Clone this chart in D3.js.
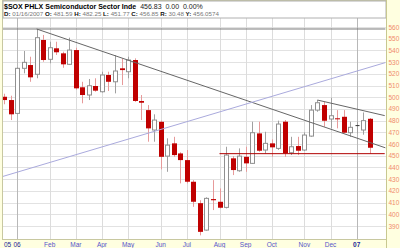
<!DOCTYPE html>
<html>
<head>
<meta charset="utf-8">
<script src="https://cdn.jsdelivr.net/npm/d3@7"></script>
<style>
body{margin:0;background:#ffffe0;}
svg{display:block;font-family:"Liberation Sans",Arial,sans-serif;}
</style>
</head>
<body>
<div id="chart"></div>
<script>
// weekly candles, $SOX
var weeks = ["2005-12-19","2005-12-26","2006-01-02","2006-01-09","2006-01-16","2006-01-23","2006-01-30",
	"2006-02-06","2006-02-13","2006-02-20","2006-02-27","2006-03-06","2006-03-13","2006-03-20","2006-03-27",
	"2006-04-03","2006-04-10","2006-04-17","2006-04-24","2006-05-01","2006-05-08","2006-05-15","2006-05-22",
	"2006-05-29","2006-06-05","2006-06-12","2006-06-19","2006-06-26","2006-07-03","2006-07-10","2006-07-17",
	"2006-07-24","2006-07-31","2006-08-07","2006-08-14","2006-08-21","2006-08-28","2006-09-04","2006-09-11",
	"2006-09-18","2006-09-25","2006-10-02","2006-10-09","2006-10-16","2006-10-23","2006-10-30","2006-11-06",
	"2006-11-13","2006-11-20","2006-11-27","2006-12-04","2006-12-11","2006-12-18","2006-12-25","2007-01-01",
	"2007-01-08","2007-01-15"];
var opens = [500.4,497.6,486.2,524.7,527.5,519.6,548.9,532.4,541.8,537.5,528.1,540.3,508.5,501.9,509.6,504.7,519,513.2,524.7,521.8,531.8,496.8,489,472,479,449.7,460.6,452,446.3,427.8,409.5,386.5,413,410.7,405.9,447.8,437.2,449.1,443.5,469.1,454.9,460.6,456.3,479.1,452.6,458.3,454.9,466.8,489,493.3,481.4,482,483.3,469.7,476,472,481.59];
var highs = [503,501.3,525.5,539.5,534.6,558.3,553.2,547.4,547.4,538.9,550.9,542.3,513.2,515.6,516.2,521.8,521.8,536,533.2,534.6,533.2,501.9,493.3,485.4,480,464.9,466.2,453,454.9,429.2,412,414.5,429.2,422.1,457.7,449.7,456.3,457.7,479.1,479.1,470.5,464,480,480.5,466.2,466.2,470,493.3,497.6,496.2,499.6,489,489,479.1,479,487,482.25];
var lows = [494,480.5,485.5,520.4,513.2,516.2,530.3,529,536.1,525.2,527.5,506.5,494.8,497.6,504.7,504,505.3,503.3,510.4,516.2,496,480.5,462,462,438.4,436.3,449.1,426.4,426.4,406.4,382,386,403.6,405,405,433.5,436.3,436.3,443,453.4,452,449.1,455,449.1,450.6,450.6,454,466.2,487.6,474.8,473.4,473.4,469.1,466.2,469,468,451.77];
var closes = [497.6,485.4,524.7,529.8,517,550.9,531.8,542.3,538.4,528.1,540.3,507.6,501.9,509.8,505.6,519,513.2,522.4,523.2,531.8,496.8,495.3,473.4,480.5,449.1,459.1,450.6,446.3,427.8,410.7,385,413.6,412,405.6,450.6,437.8,449.7,443.5,469.7,454.3,460.6,457.2,477.1,452,457.7,454.3,467.7,489,495.3,479.9,484.2,481.4,469.7,474.3,476.2,480,456.85];

var priceTicks = [390,400,410,420,430,440,450,460,470,480,490,500,510,520,530,540,550,560];
var tickWeeks = ["2005-12-19","2006-01-02","2006-02-06","2006-03-06","2006-04-03","2006-05-01","2006-06-05",
	"2006-07-03","2006-08-07","2006-09-04","2006-10-02","2006-11-06","2006-12-04","2007-01-01"];
var tickLabels = ["05","06","Feb","Mar","Apr","May","Jun","Jul","Aug","Sep","Oct","Nov","Dec","07"];

// drawn lines: [week index, price]
var lineFrom = [[-1,558.3],[5,558.3],[-0.5,431.8],[48,497.6],[33,451.8]];
var lineTo = [[58.4,558.3],[58.4,456.8],[58.4,529.6],[58.3,484.3],[58.3,451.8]];
var lineColors = ["#777","#666","#aaaadd","#666","#b00000"];

var width = 400, height = 248;
var L = 3, R = 386, T = 1, B = 239;

var svg = d3.select("#chart").append("svg")
	.attr("width", width).attr("height", height);

svg.append("rect").attr("width", width).attr("height", height).attr("fill", "#ffffe0");
svg.append("rect").attr("x", L).attr("y", T).attr("width", R - L).attr("height", B - T)
	.attr("fill", "#fff");

var x = d3.scaleLinear().domain([0, weeks.length - 1]).range([4, 369.7]);
var y = d3.scaleLinear().domain([390, 560]).range([226, 27]);

svg.append("clipPath").attr("id", "plot")
	.append("rect").attr("x", L).attr("y", 18).attr("width", R - L).attr("height", B - 18);

var g = svg.append("g").attr("clip-path", "url(#plot)");

// grid
g.selectAll(".hg").data(priceTicks).enter().append("line")
	.attr("x1", L).attr("x2", R)
	.attr("y1", function(d){ return Math.round(y(d)) + 0.5; })
	.attr("y2", function(d){ return Math.round(y(d)) + 0.5; })
	.attr("stroke", "#e2e2e2");

g.selectAll(".vg").data(tickWeeks.slice(1)).enter().append("line")
	.attr("x1", function(d){ return Math.round(x(weeks.indexOf(d))) + 0.5; })
	.attr("x2", function(d){ return Math.round(x(weeks.indexOf(d))) + 0.5; })
	.attr("y1", 18).attr("y2", B)
	.attr("stroke", function(d){ return d.slice(5) === "01-01" || d.slice(5) === "01-02" ? "#b8b8b8" : "#dcdcdc"; });

// candles
var idx = d3.range(weeks.length);
var cg = g.selectAll(".candle").data(idx).enter().append("g");

cg.append("line")
	.attr("x1", function(i){ return Math.round(x(i)) + 0.5; })
	.attr("x2", function(i){ return Math.round(x(i)) + 0.5; })
	.attr("y1", function(i){ return y(highs[i]); })
	.attr("y2", function(i){ return y(lows[i]); })
	.attr("stroke", function(i){ return closes[i] < opens[i] ? "#e79a9a" : "#a0a0a0"; });

cg.append("rect")
	.attr("x", function(i){ return closes[i] < opens[i] ? Math.round(x(i)) - 2 : Math.round(x(i)) - 1.5; })
	.attr("width", function(i){ return closes[i] < opens[i] ? 5 : 4; })
	.attr("y", function(i){ return y(Math.max(opens[i], closes[i])); })
	.attr("height", function(i){ return Math.max(1, Math.abs(y(opens[i]) - y(closes[i]))); })
	.attr("fill", function(i){
		if (Math.abs(opens[i] - closes[i]) < 0.5) return "#333";
		return closes[i] < opens[i] ? "#c00000" : "#fff";
	})
	.attr("stroke", function(i){
		if (Math.abs(opens[i] - closes[i]) < 0.5) return "none";
		return closes[i] < opens[i] ? "none" : "#909090";
	});

// drawn lines
g.selectAll(".tl").data(lineFrom).enter().append("line")
	.attr("x1", function(d){ return x(d[0]); })
	.attr("y1", function(d){ return y(d[1]); })
	.attr("x2", function(d, i){ return x(lineTo[i][0]); })
	.attr("y2", function(d, i){ return y(lineTo[i][1]); })
	.attr("stroke", function(d, i){ return lineColors[i]; })
	.attr("stroke-width", 1);

// frame
svg.append("rect").attr("x", L - 0.5).attr("y", T - 0.5).attr("width", R - L + 1).attr("height", B - T + 1)
	.attr("fill", "none").attr("stroke", "#c8c8a0");

// header
svg.append("rect").attr("x", L).attr("y", T).attr("width", R - L).attr("height", 17)
	.attr("fill", "#fff").attr("stroke", "#b0b0b0");

var h1 = svg.append("text").attr("x", 4).attr("y", 8.5).attr("font-size", "7px")
	.style("white-space", "pre");
h1.append("tspan").attr("font-weight", "bold").text("$SOX PHLX Semiconductor Sector Inde");
h1.append("tspan").attr("fill", "#222").text("  456.83  0.00  0.00%");

var hdr = [["D:", "01/16/2007"], ["O:", "481.59"], ["H:", "482.25"], ["L:", "451.77"],
	["C:", "456.85"], ["R:", "30.48"], ["Y:", "456.0574"]];
var h2 = svg.append("text").attr("x", 4).attr("y", 16).attr("font-size", "6.2px");
hdr.forEach(function(p, i){
	h2.append("tspan").attr("font-weight", "bold").attr("fill", "#111").text((i ? " " : "") + p[0]);
	h2.append("tspan").attr("fill", "#777").text(" " + p[1]);
});

// right axis
svg.append("line").attr("x1", R + 0.5).attr("x2", R + 0.5).attr("y1", 0).attr("y2", height)
	.attr("stroke", "#c8c890");
svg.selectAll(".yl").data(priceTicks).enter().append("text")
	.attr("x", 388.5)
	.attr("y", function(d){ return y(d) + 2.5; })
	.attr("font-size", "6.5px")
	.attr("fill", "#f08a6c")
	.text(function(d){ return d; });

// bottom axis
svg.selectAll(".xl").data(tickWeeks).enter().append("text")
	.attr("x", function(d, i){ return i === 0 ? 4 : x(weeks.indexOf(d)); })
	.attr("y", 246.5)
	.attr("text-anchor", function(d, i){ return i === 0 ? "start" : "middle"; })
	.attr("font-size", "6.5px")
	.attr("font-weight", function(d, i){ return tickLabels[i] === "07" ? "bold" : "normal"; })
	.attr("fill", function(d, i){ return tickLabels[i].length === 2 ? "#1a2a9a" : "#5555cc"; })
	.text(function(d, i){ return tickLabels[i]; });
</script>
</body>
</html>
